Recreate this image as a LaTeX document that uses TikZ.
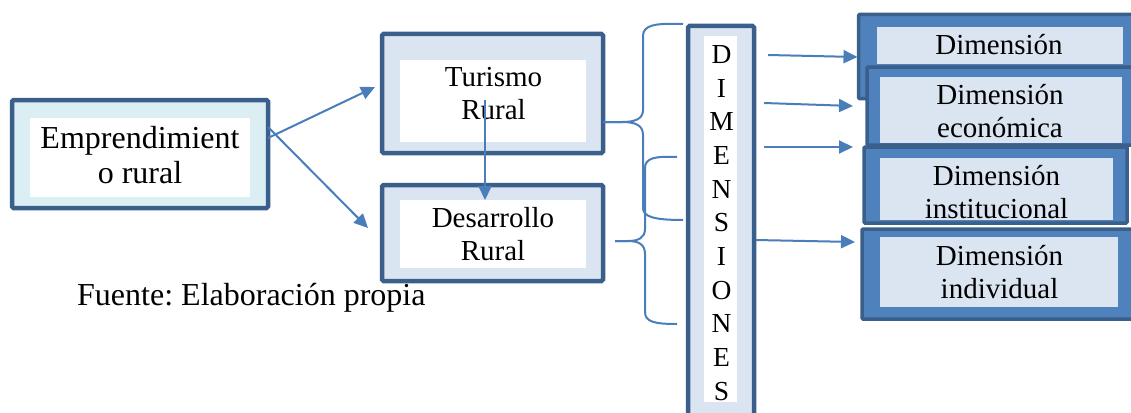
\documentclass[tikz,border=0pt]{standalone}
\usepackage{fontspec}
\setmainfont{Liberation Serif}
\usetikzlibrary{arrows.meta,calc}
\definecolor{dkb}{HTML}{3A5F8B}
\definecolor{arrc}{HTML}{4A7EBB}
\definecolor{cyanf}{HTML}{DAEEF3}
\definecolor{lbf}{HTML}{DBE5F1}
\definecolor{mbf}{HTML}{4F81BD}
\frenchspacing
\begin{document}
\begin{tikzpicture}[x=1pt,y=-1pt,
  outerbox/.style={draw=dkb, line width=4.5pt, rounded corners=1.5pt, inner sep=0pt, outer sep=0pt},
  innerbox/.style={fill=white, inner sep=0pt, outer sep=0pt},
  dimbox/.style={draw=dkb, fill=mbf, line width=3.5pt, rounded corners=1pt, inner sep=0pt, outer sep=0pt},
  diminner/.style={fill=lbf, inner sep=0pt, outer sep=0pt},
  txt/.style={align=center, font=\fontsize{29}{33.5}\selectfont, inner sep=0pt},
  arr/.style={draw=arrc, line width=2pt, -{Triangle[length=14pt,width=13pt]}},
  brc/.style={draw=arrc, line width=2pt}]
\useasboundingbox (0,0) rectangle (1131,412);

% Emprendimiento
\node[outerbox, fill=cyanf, minimum width=256pt, minimum height=108pt] (emp) at (140,154) {};
\node[innerbox, minimum width=220pt, minimum height=79pt] (empin) at (140,157.5) {};
\node[txt, font=\fontsize{32}{35}\selectfont] (emptxt) at (140,155) {Emprendimient\\o rural};

% Turismo Rural
\node[outerbox, fill=lbf, minimum width=221pt, minimum height=119pt] (tur) at (492.5,93.5) {};
\node[innerbox, minimum width=186pt, minimum height=82pt] (turin) at (493,101) {};
\node[txt] (turtxt) at (493.5,93.5) {Turismo\\Rural};

% Desarrollo Rural
\node[outerbox, fill=lbf, minimum width=221pt, minimum height=96pt] (des) at (492.5,233) {};
\node[innerbox, minimum width=186pt, minimum height=68pt] (desin) at (493,234) {};
\node[txt] (destxt) at (493,234) {Desarrollo\\Rural};

% DIMENSIONES
\node[outerbox, fill=lbf, minimum width=66pt, minimum height=394pt] (dim) at (721,223) {};
\node[innerbox, minimum width=33pt, minimum height=366pt] (dimin) at (720.5,219) {};
\node[align=center, inner sep=0pt, font=\fontsize{27.5}{33.7}\selectfont] (dimtxt) at (721.5,223)
  {D\\I\\M\\E\\N\\S\\I\\O\\N\\E\\S};

% Right boxes
\node[dimbox, minimum width=280pt, minimum height=84pt] (d1) at (998.5,56.5) {};
\node[diminner, minimum width=246pt, minimum height=37pt] (d1in) at (1000,45.5) {};
\node[txt, anchor=base] (d1txt) at (999,55) {Dimensión};

\node[dimbox, minimum width=273pt, minimum height=78pt] (d2) at (1003.5,106) {};
\node[diminner, minimum width=242pt, minimum height=66pt] (d2in) at (1001,110) {};
\node[txt] (d2txt) at (1000,111) {Dimensión\\económica};

\node[dimbox, minimum width=263pt, minimum height=76pt] (d3) at (995.5,185) {};
\node[diminner, minimum width=233pt, minimum height=62pt] (d3in) at (996.5,189) {};
\node[txt] (d3txt) at (996.5,192) {Dimensión\\institucional};

\node[dimbox, minimum width=278pt, minimum height=90pt] (d4) at (1001,274) {};
\node[diminner, minimum width=238pt, minimum height=70pt] (d4in) at (999,272) {};
\node[txt] (d4txt) at (999.5,272) {Dimensión\\individual};

% Fuente
\node[anchor=base west, inner sep=0pt, font=\fontsize{32}{36}\selectfont] (fuente) at (77,305) {Fuente: Elaboración propia};

% Arrows from Emprendimiento
\draw[arr] ($(emp.east)+(0,-16)$) -- ($(tur.west)+(-7,-6.5)$);
\draw[arr] ($(emp.east)+(0,-27)$) -- ($(des.west)+(-14,-5)$);
% Turismo -> Desarrollo
\draw[arr] ($(tur.center)+(-7.5,6.5)$) -- ($(desin.north)+(-8,0)$);

% Braces
\coordinate (b1tip) at ($(tur.east)+(0,28.5)$);
\coordinate (b1top) at ($(dim.north west)+(-5,-2)$);
\coordinate (b1bot) at ($(dim.west)+(-5,-3)$);
\draw[brc] (b1top) .. controls ($(b1top)+(-28,-1)$) and ($(b1top)+(-40,1)$) .. ($(b1top)+(-40,12)$)
  -- ($(b1tip)+(40,-12)$) .. controls ($(b1tip)+(40,-3)$) and ($(b1tip)+(32,0)$) .. ($(b1tip)+(19,0)$)
  -- (b1tip);
\draw[brc] (b1tip) -- ($(b1tip)+(19,0)$) .. controls ($(b1tip)+(32,0)$) and ($(b1tip)+(40,3)$) .. ($(b1tip)+(40,13)$)
  -- ($(b1bot)+(-40,-12)$) .. controls ($(b1bot)+(-40,-3)$) and ($(b1bot)+(-28,0)$) .. (b1bot);

\coordinate (b2tip) at ($(des.east)+(12,8)$);
\coordinate (b2top) at ($(dim.west)+(-11,-66)$);
\coordinate (b2bot) at ($(dim.west)+(-11,101)$);
\draw[brc] (b2top) .. controls ($(b2top)+(-22,-1)$) and ($(b2top)+(-32,1)$) .. ($(b2top)+(-32,11)$)
  -- ($(b2tip)+(30,-12)$) .. controls ($(b2tip)+(30,-3)$) and ($(b2tip)+(23,0)$) .. ($(b2tip)+(13,0)$)
  -- (b2tip);
\draw[brc] (b2tip) -- ($(b2tip)+(13,0)$) .. controls ($(b2tip)+(23,0)$) and ($(b2tip)+(30,3)$) .. ($(b2tip)+(30,13)$)
  -- ($(b2bot)+(-32,-12)$) .. controls ($(b2bot)+(-32,-2)$) and ($(b2bot)+(-22,0)$) .. (b2bot);

% Arrows to dimension boxes
\draw[arr] ($(dim.east)+(14,-168)$) -- ($(d1.west)+(-1,0.5)$);
\draw[arr] ($(dim.east)+(10,-120)$) -- ($(d2.west)+(-14,0)$);
\draw[arr] ($(dim.east)+(10,-76)$) -- ($(d3.west)+(-11,-38)$);
\draw[arr] ($(dim.east)+(2,17)$) -- ($(d4.west)+(-7,-32)$);
\end{tikzpicture}
\end{document}
